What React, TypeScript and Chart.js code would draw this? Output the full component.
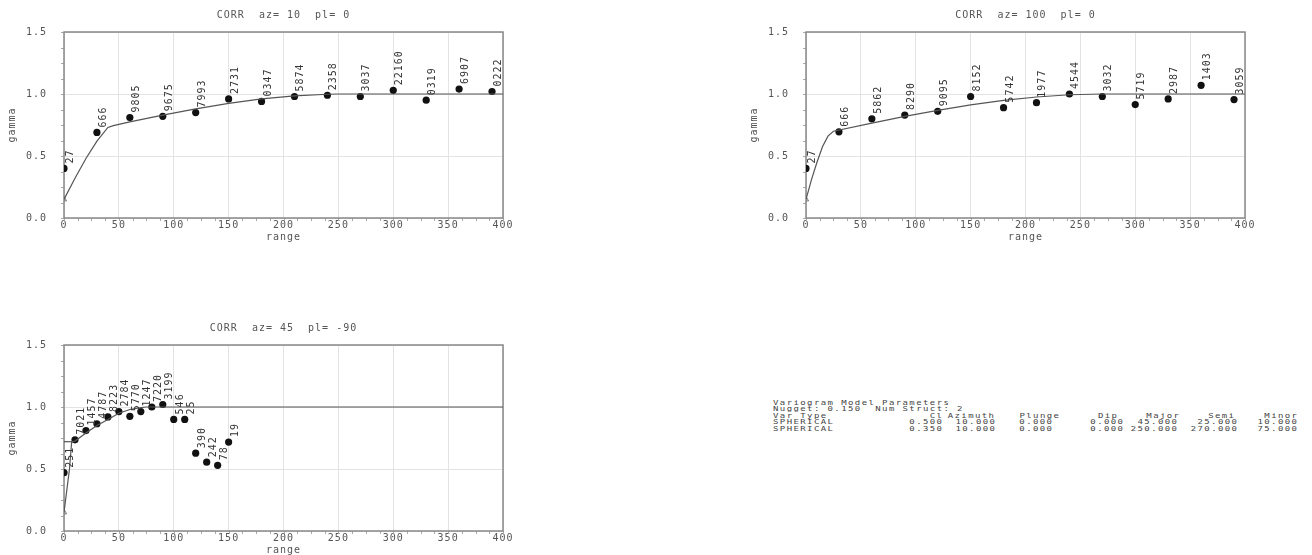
import React, { useEffect, useRef } from "react";
import { Chart, registerables } from "chart.js";
Chart.register(...registerables);

// ---------- data ----------
const LAGS_AZ10 = [0, 30, 60, 90, 120, 150, 180, 210, 240, 270, 300, 330, 360, 390];
const GAMMA_AZ10 = [0.40, 0.69, 0.81, 0.82, 0.85, 0.96, 0.94, 0.98, 0.99, 0.98, 1.03, 0.95, 1.04, 1.02];
const PAIRS_AZ10 = ["27", "666", "9805", "9675", "7993", "2731", "0347", "5874", "2358", "3037", "22160", "0319", "6907", "0222"];
const MODEL_H_AZ10 = [0, 10, 20, 30, 40, 45, 60, 90, 120, 150, 180, 210, 240, 250, 400];
const MODEL_G_AZ10 = [0.15, 0.32, 0.48, 0.62, 0.73, 0.745, 0.775, 0.83, 0.88, 0.925, 0.96, 0.985, 0.998, 1.0, 1.0];

const LAGS_AZ100 = [0, 30, 60, 90, 120, 150, 180, 210, 240, 270, 300, 330, 360, 390];
const GAMMA_AZ100 = [0.40, 0.695, 0.80, 0.83, 0.86, 0.98, 0.89, 0.93, 1.0, 0.98, 0.915, 0.96, 1.07, 0.955];
const PAIRS_AZ100 = ["27", "666", "5862", "8290", "9095", "8152", "5742", "1977", "4544", "3032", "5719", "2987", "1403", "3059"];
const MODEL_H_AZ100 = [0, 5, 10, 15, 20, 25, 60, 90, 120, 150, 180, 210, 240, 270, 400];
const MODEL_G_AZ100 = [0.15, 0.31, 0.45, 0.575, 0.66, 0.70, 0.765, 0.82, 0.868, 0.912, 0.948, 0.976, 0.994, 1.0, 1.0];

const LAGS_VERT = [0, 10, 20, 30, 40, 50, 60, 70, 80, 90, 100, 110, 120, 130, 140, 150];
const GAMMA_VERT = [0.47, 0.735, 0.81, 0.865, 0.92, 0.963, 0.925, 0.963, 1.0, 1.02, 0.90, 0.90, 0.628, 0.555, 0.53, 0.717];
const PAIRS_VERT = ["251", "7021", "1457", "4787", "8223", "2784", "5770", "1247", "7220", "3199", "546", "25", "390", "242", "78", "19"];
const MODEL_H_VERT = [0, 5, 7, 10, 20, 30, 40, 50, 60, 70, 75, 400];
const MODEL_G_VERT = [0.15, 0.50, 0.72, 0.725, 0.79, 0.85, 0.90, 0.95, 0.98, 0.995, 1.0, 1.0];
const STEP_H_VERT = [0, 7];
const STEP_G_VERT = [0.72, 0.72];

const NUGGET = 0.15;
const TITLES = ["CORR  az= 10  pl= 0", "CORR  az= 100  pl= 0", "CORR  az= 45  pl= -90"];
const X_LABEL = "range";
const Y_LABEL = "gamma";

// model parameter table
const TABLE_TITLE = "Variogram Model Parameters";
const NUGGET_LINE = "Nugget: 0.150  Num Struct: 2";
const TABLE_HEAD = ["Var Type", "Cl", "Azimuth", "Plunge", "Dip", "Major", "Semi", "Minor"];
const STRUCT_TYPE = ["SPHERICAL", "SPHERICAL"];
const STRUCT_CC = [0.5, 0.35];
const STRUCT_AZ = [10, 10];
const STRUCT_PL = [0, 0];
const STRUCT_DIP = [0, 0];
const RANGE_MAJOR = [45, 250];
const RANGE_SEMI = [25, 270];
const RANGE_MINOR = [10, 75];

// ---------- style ----------
const FONT_FAMILY = "'DejaVu Sans Mono', monospace";
const FONT = `10px ${FONT_FAMILY}`;
const TEXT_COLOR = "#555";
const CANVAS_W = 560;
const CANVAS_H = 250;

type PlotSpec = {
  title: string;
  lags: number[];
  gamma: number[];
  pairs: string[];
  modelH: number[];
  modelG: number[];
  stepH?: number[];
  stepG?: number[];
};

function toPts(xs: number[], ys: number[]) {
  return xs.map((x, i) => ({ x, y: ys[i] }));
}

function makePlugin(spec: PlotSpec, obsIndex: number) {
  return {
    id: "deco",
    beforeDraw(chart: any) {
      chart.ctx.letterSpacing = "1px";
    },
    beforeDatasetsDraw(chart: any) {
      const { ctx, chartArea: a, scales } = chart;
      const x = scales.x;
      const y = scales.y;
      ctx.save();
      ctx.strokeStyle = "#aaa";
      ctx.lineWidth = 1;
      ctx.beginPath();
      for (let v = 0; v <= 1.5001; v += 0.125) {
        const py = Math.round(y.getPixelForValue(v)) + 0.5;
        ctx.moveTo(a.left - 3, py);
        ctx.lineTo(a.left, py);
      }
      for (let v = 0; v <= 400.01; v += 12.5) {
        const px = Math.round(x.getPixelForValue(v)) + 0.5;
        ctx.moveTo(px, a.bottom);
        ctx.lineTo(px, a.bottom + 3);
      }
      ctx.stroke();
      ctx.strokeStyle = "#888";
      ctx.lineWidth = 1.5;
      ctx.strokeRect(a.left, a.top, a.right - a.left, a.bottom - a.top);
      ctx.fillStyle = TEXT_COLOR;
      ctx.font = FONT;
      ctx.textAlign = "center";
      ctx.textBaseline = "middle";
      ctx.fillText(spec.title, (a.left + a.right) / 2, a.top - 17);
      ctx.fillText(X_LABEL, (a.left + a.right) / 2, a.bottom + 19);
      ctx.translate(12, (a.top + a.bottom) / 2);
      ctx.rotate(-Math.PI / 2);
      ctx.fillText(Y_LABEL, 0, 0);
      ctx.restore();
    },
    afterDatasetsDraw(chart: any) {
      const { ctx } = chart;
      const meta = chart.getDatasetMeta(obsIndex);
      ctx.save();
      ctx.fillStyle = "#333";
      ctx.font = FONT;
      ctx.textAlign = "left";
      ctx.textBaseline = "alphabetic";
      meta.data.forEach((el: any, i: number) => {
        ctx.save();
        ctx.translate(el.x, el.y - 5);
        ctx.rotate(-Math.PI / 2);
        ctx.fillText(spec.pairs[i], 0, 9);
        ctx.restore();
      });
      ctx.restore();
    },
  };
}

function makeConfig(spec: PlotSpec): any {
  const datasets: any[] = [
    {
      label: "model",
      data: toPts(spec.modelH, spec.modelG),
      showLine: true,
      borderColor: "#555",
      borderWidth: 1.2,
      pointRadius: 0,
      tension: 0,
    },
  ];
  if (spec.stepH && spec.stepG) {
    datasets.push({
      label: "model step",
      data: toPts(spec.stepH, spec.stepG),
      showLine: true,
      borderColor: "#555",
      borderWidth: 1.2,
      pointRadius: 0,
    });
  }
  datasets.push({
    label: "nugget",
    data: [{ x: 0, y: NUGGET }],
    pointStyle: "triangle",
    pointRadius: 3,
    backgroundColor: "rgba(0,0,0,0)",
    borderColor: "#777",
    borderWidth: 1,
  });
  const obsIndex = datasets.length;
  datasets.push({
    label: "experimental",
    data: toPts(spec.lags, spec.gamma),
    pointRadius: 3.6,
    backgroundColor: "#111",
    borderColor: "#111",
    borderWidth: 0,
  });
  return {
    type: "scatter",
    data: { datasets },
    options: {
      animation: false,
      responsive: false,
      devicePixelRatio: 1,
      layout: { padding: { left: 0, top: 32, right: CANVAS_W - 503, bottom: 0 } },
      plugins: { legend: { display: false }, tooltip: { enabled: false } },
      scales: {
        x: {
          type: "linear",
          min: 0,
          max: 400,
          ticks: {
            stepSize: 50,
            padding: 1,
            maxRotation: 0,
            color: TEXT_COLOR,
            font: { family: FONT_FAMILY, size: 10 },
          },
          grid: { color: "#e3e3e3", drawTicks: false, lineWidth: 1 },
          border: { display: false },
          afterFit: (s: any) => {
            s.height = CANVAS_H - 218;
          },
        },
        y: {
          type: "linear",
          min: 0,
          max: 1.5,
          ticks: {
            stepSize: 0.5,
            padding: 17,
            color: TEXT_COLOR,
            font: { family: FONT_FAMILY, size: 10 },
            callback: (v: any) => Number(v).toFixed(1),
          },
          grid: { color: "#e3e3e3", drawTicks: false, lineWidth: 1 },
          border: { display: false },
          afterFit: (s: any) => {
            s.width = 64;
          },
        },
      },
    },
    plugins: [makePlugin(spec, obsIndex)],
  };
}

function Plot({ spec, left, top }: { spec: PlotSpec; left: number; top: number }) {
  const ref = useRef<HTMLCanvasElement>(null);
  useEffect(() => {
    if (!ref.current) return;
    const chart = new Chart(ref.current, makeConfig(spec));
    return () => chart.destroy();
  }, [spec]);
  return (
    <canvas
      ref={ref}
      width={CANVAS_W}
      height={CANVAS_H}
      style={{ position: "absolute", left, top, width: CANVAS_W, height: CANVAS_H }}
    />
  );
}

const SPEC_AZ10: PlotSpec = {
  title: TITLES[0],
  lags: LAGS_AZ10,
  gamma: GAMMA_AZ10,
  pairs: PAIRS_AZ10,
  modelH: MODEL_H_AZ10,
  modelG: MODEL_G_AZ10,
};
const SPEC_AZ100: PlotSpec = {
  title: TITLES[1],
  lags: LAGS_AZ100,
  gamma: GAMMA_AZ100,
  pairs: PAIRS_AZ100,
  modelH: MODEL_H_AZ100,
  modelG: MODEL_G_AZ100,
};
const SPEC_VERT: PlotSpec = {
  title: TITLES[2],
  lags: LAGS_VERT,
  gamma: GAMMA_VERT,
  pairs: PAIRS_VERT,
  modelH: MODEL_H_VERT,
  modelG: MODEL_G_VERT,
  stepH: STEP_H_VERT,
  stepG: STEP_G_VERT,
};

// table layout
const TABLE_LEFT = 773;
const LINE_Y = [403, 409.5, 416, 422.5, 429];
const HEAD_RIGHT = [0, 942, 994, 1059, 1117, 1179, 1234, 1297];
const VAL_RIGHT = [942, 995, 1052, 1123, 1177, 1237, 1297];
const LETTER_SP = 1.4;
const textStyle: React.CSSProperties = {
  position: "absolute",
  fontFamily: FONT_FAMILY,
  fontSize: 9,
  letterSpacing: `${LETTER_SP}px`,
  lineHeight: "9px",
  height: 9,
  color: "#444",
  whiteSpace: "pre",
  transform: "scaleY(0.68)",
  transformOrigin: "50% 50%",
};

function ParamTable() {
  const rows = STRUCT_TYPE.map((t, i) => [
    STRUCT_CC[i],
    STRUCT_AZ[i],
    STRUCT_PL[i],
    STRUCT_DIP[i],
    RANGE_MAJOR[i],
    RANGE_SEMI[i],
    RANGE_MINOR[i],
  ]);
  const items: React.ReactNode[] = [];
  const at = (key: string, text: string, y: number, left?: number, right?: number) => {
    const st: React.CSSProperties = { ...textStyle, top: y - 4.5 };
    if (left !== undefined) st.left = left;
    if (right !== undefined) st.right = 1312 - right - LETTER_SP;
    items.push(
      <span key={key} style={st}>
        {text}
      </span>
    );
  };
  at("t", TABLE_TITLE, LINE_Y[0], TABLE_LEFT);
  at("n", NUGGET_LINE, LINE_Y[1], TABLE_LEFT);
  TABLE_HEAD.forEach((h, j) => {
    if (j === 0) at("h0", h, LINE_Y[2], TABLE_LEFT);
    else at("h" + j, h, LINE_Y[2], undefined, HEAD_RIGHT[j]);
  });
  rows.forEach((r, i) => {
    at("r" + i, STRUCT_TYPE[i], LINE_Y[3 + i], TABLE_LEFT);
    r.forEach((v, j) => at(`v${i}_${j}`, v.toFixed(3), LINE_Y[3 + i], undefined, VAL_RIGHT[j]));
  });
  return <>{items}</>;
}

export default function App() {
  return (
    <div
      style={{
        position: "absolute",
        left: 0,
        top: 0,
        width: 1312,
        height: 555,
        overflow: "hidden",
        background: "#fff",
      }}
    >
      <Plot spec={SPEC_AZ10} left={0} top={0} />
      <Plot spec={SPEC_AZ100} left={742} top={0} />
      <Plot spec={SPEC_VERT} left={0} top={313} />
      <ParamTable />
    </div>
  );
}
